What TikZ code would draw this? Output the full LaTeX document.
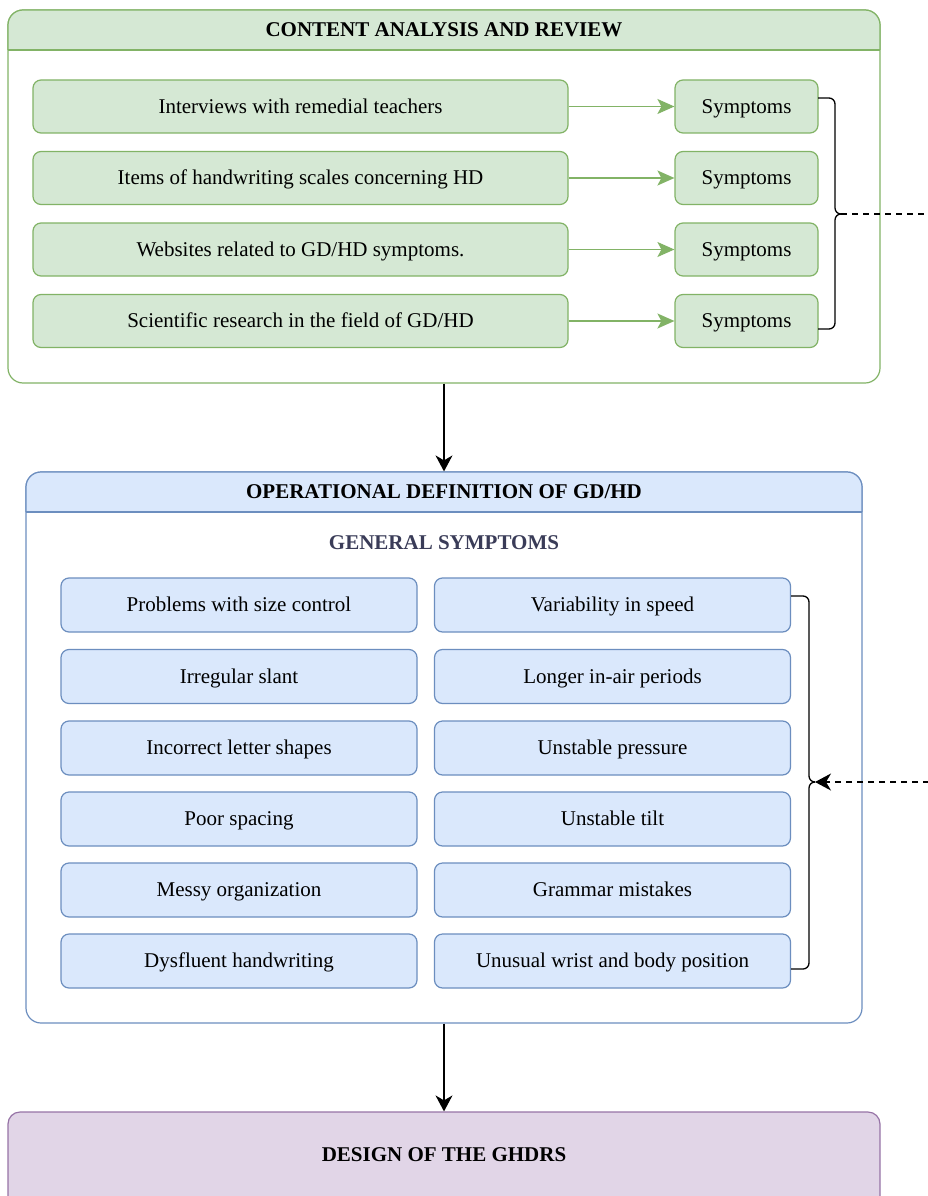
\documentclass[tikz,border=0pt]{standalone}
\usepackage{fontspec}
\setmainfont{Liberation Serif}
\usetikzlibrary{arrows.meta}
\definecolor{gline}{HTML}{82B366}
\definecolor{gfill}{HTML}{D5E8D4}
\definecolor{bline}{HTML}{6C8EBF}
\definecolor{bfill}{HTML}{DAE8FC}
\definecolor{pline}{HTML}{9673A6}
\definecolor{pfill}{HTML}{E1D5E7}
\definecolor{subtitle}{RGB}{58,60,88}
\tikzset{
  txt/.style={font=\fontsize{21}{25}\selectfont, text height=13.9pt, text depth=0pt, inner sep=0pt},
  boldtxt/.style={txt, font=\fontsize{21}{25}\selectfont\bfseries},
  gbox/.style={txt, draw=gline, fill=gfill, line width=1.2pt, rounded corners=8pt, minimum height=53pt},
  bbox/.style={txt, draw=bline, fill=bfill, line width=1.2pt, rounded corners=8pt, minimum height=54pt, minimum width=356pt},
  garrow/.style={draw=gline, line width=1.2pt, -{Stealth[length=17pt, width=15pt, inset=4pt]}},
  barrow/.style={draw=black, line width=1.3pt, -{Stealth[length=16pt, width=17pt, inset=5pt]}},
  bracepath/.style={draw=black, line width=1.3pt, rounded corners=6pt},
  dashline/.style={draw=black, line width=1.3pt, dash pattern=on 6pt off 5pt},
}
\begin{document}
\begin{tikzpicture}[x=1pt, y=-1pt]
\useasboundingbox (0,0) rectangle (928,1196);
\clip (0,0) rectangle (928,1196);

% ---------- top container ----------
\node[draw=gline, fill=white, line width=1.2pt, rounded corners=15pt,
      minimum width=872pt, minimum height=373pt, inner sep=0pt] (topc) at (444,196.5) {};
\path[draw=gline, fill=gfill, line width=1.2pt, rounded corners=15pt]
  (8,50) -- (8,10) -- (880,10) -- (880,50);
\draw[gline, line width=1.2pt] (8,50) -- (880,50);
\node[boldtxt] (toptitle) at (444,30) {CONTENT ANALYSIS AND REVIEW};

\node[gbox, minimum width=535pt] (src1) at (300.5,106.5) {Interviews with remedial teachers};
\node[gbox, minimum width=535pt] (src2) at (300.5,178) {Items of handwriting scales concerning HD};
\node[gbox, minimum width=535pt] (src3) at (300.5,249.5) {Websites related to GD/HD symptoms.};
\node[gbox, minimum width=535pt] (src4) at (300.5,321) {Scientific research in the field of GD/HD};

\node[gbox, minimum width=143pt] (sym1) at (746.5,106.5) {Symptoms};
\node[gbox, minimum width=143pt] (sym2) at (746.5,178) {Symptoms};
\node[gbox, minimum width=143pt] (sym3) at (746.5,249.5) {Symptoms};
\node[gbox, minimum width=143pt] (sym4) at (746.5,321) {Symptoms};

\draw[garrow] (src1.east) -- (sym1.west);
\draw[garrow] (src2.east) -- (sym2.west);
\draw[garrow] (src3.east) -- (sym3.west);
\draw[garrow] (src4.east) -- (sym4.west);

% brace 1
\coordinate (b1top) at (818,98);
\coordinate (b1bot) at (818,329);
\coordinate (b1tip) at (841,214);
\coordinate (b1out) at (940,214);
\path[bracepath] (b1top) -- (835,98) -- (835,214) -- (b1tip);
\path[bracepath] (b1tip) -- (835,214) -- (835,329) -- (b1bot);
\path[dashline] (b1tip) -- (b1out);

% ---------- middle container ----------
\node[draw=bline, fill=white, line width=1.2pt, rounded corners=15pt,
      minimum width=836pt, minimum height=551pt, inner sep=0pt] (midc) at (444,747.5) {};
\path[draw=bline, fill=bfill, line width=1.2pt, rounded corners=15pt]
  (26,512) -- (26,472) -- (862,472) -- (862,512);
\draw[bline, line width=1.2pt] (26,512) -- (862,512);
\node[boldtxt] (midtitle) at (444,492) {OPERATIONAL DEFINITION OF GD/HD};
\node[boldtxt, text=subtitle] (gensym) at (444,543) {GENERAL SYMPTOMS};

\node[bbox] (l1) at (239,605) {Problems with size control};
\node[bbox] (l2) at (239,676.5) {Irregular slant};
\node[bbox] (l3) at (239,748) {Incorrect letter shapes};
\node[bbox] (l4) at (239,819) {Poor spacing};
\node[bbox] (l5) at (239,890) {Messy organization};
\node[bbox] (l6) at (239,961) {Dysfluent handwriting};

\node[bbox] (r1) at (612.5,605) {Variability in speed};
\node[bbox] (r2) at (612.5,676.5) {Longer in-air periods};
\node[bbox] (r3) at (612.5,748) {Unstable pressure};
\node[bbox] (r4) at (612.5,819) {Unstable tilt};
\node[bbox] (r5) at (612.5,890) {Grammar mistakes};
\node[bbox] (r6) at (612.5,961) {Unusual wrist and body position};

% brace 2
\coordinate (b2top) at (791,596);
\coordinate (b2bot) at (791,969);
\coordinate (b2tip) at (815,782);
\coordinate (b2in) at (940,782);
\path[bracepath] (b2top) -- (809,596) -- (809,782) -- (b2tip);
\path[bracepath] (b2tip) -- (809,782) -- (809,969) -- (b2bot);
\path[dashline, -{Stealth[length=16pt, width=17pt, inset=5pt]}] (b2in) -- (b2tip);

% ---------- bottom box ----------
\node[draw=pline, fill=pfill, line width=1.2pt, rounded corners=12pt,
      minimum width=872pt, minimum height=100pt, inner sep=0pt] (design) at (444,1162) {};
\node[boldtxt] (designtitle) at (444,1155) {DESIGN OF THE GHDRS};

% ---------- connectors ----------
\draw[barrow] (topc.south) -- (midc.north);
\draw[barrow] (midc.south) -- (design.north);
\end{tikzpicture}
\end{document}
